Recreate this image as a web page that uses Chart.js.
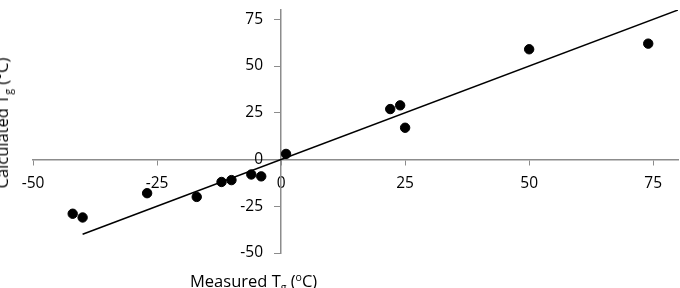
<!DOCTYPE html>
<html>
<head>
<meta charset="utf-8">
<script src="https://cdn.jsdelivr.net/npm/chart.js@4/dist/chart.umd.min.js"></script>
<style>
  html, body { margin: 0; padding: 0; background: #fff; }
  #wrap { position: relative; width: 680px; height: 288px; overflow: hidden; }
  canvas { position: absolute; left: 0; top: 0; }
  .title { position: absolute; font-family: "Open Sans", sans-serif; font-size: 16.5px; color: #000; white-space: nowrap; line-height: 16px; }
  .title sub { font-size: 10.5px; vertical-align: -4px; line-height: 0; }
  .title sup { font-size: 10.5px; vertical-align: 6px; line-height: 0; }
  #xTitle { left: 190px; top: 273px; }
  #yTitle { left: 1.5px; top: 123px; transform: translate(-50%, -50%) rotate(-90deg); }
</style>
</head>
<body>
<div id="wrap">
  <canvas id="c" width="680" height="288"></canvas>
  <div class="title" id="xTitle">Measured T<sub>g</sub> (<sup>o</sup>C)</div>
  <div class="title" id="yTitle">Calculated T<sub>g</sub> (°C)</div>
</div>
<script>
// Data
const measuredTg   = [-42, -40, -27, -17, -12, -10, -6, -4, 1, 22, 24, 25, 50, 74];
const calculatedTg = [-29, -31, -18, -20, -12, -11, -8, -9, 3, 27, 29, 17, 59, 62];
// Reference (parity) line endpoints
const lineX = [-40, 80];
const lineY = [-40, 80];
// Axis ranges / tick step
const xRange = [-50, 80];
const yRange = [-50, 80];
const tickStep = 25;

const points = measuredTg.map((x, i) => ({ x: x, y: calculatedTg[i] }));
const linePts = lineX.map((x, i) => ({ x: x, y: lineY[i] }));

const axisGray = '#8c8c8c';
const tickFont = { family: '"Open Sans", sans-serif', size: 15.5 };

// Axes placed at a data value should not reserve any layout space
function noLayoutSpace(s) {
  if (s.isHorizontal()) { s.height = 0; } else { s.width = 0; }
  s.paddingLeft = 0; s.paddingRight = 0; s.paddingTop = 0; s.paddingBottom = 0;
}

// y labels of an axis placed at a data value are drawn on the axis line; push them left of the tick marks
function shiftYLabels(s) {
  noLayoutSpace(s);
  const proto = Object.getPrototypeOf(s);
  s._computeLabelItems = function (area) {
    const items = proto._computeLabelItems.call(this, area);
    items.forEach(it => { it.options.translation[0] -= 18; });
    return items;
  };
}

new Chart(document.getElementById('c'), {
  type: 'scatter',
  data: {
    datasets: [
      {
        type: 'line',
        data: linePts,
        borderColor: '#000',
        borderWidth: 1.5,
        pointRadius: 0,
        fill: false,
        order: 2
      },
      {
        data: points,
        backgroundColor: '#000',
        borderColor: '#000',
        pointRadius: 4.7,
        pointHoverRadius: 4.7,
        order: 1
      }
    ]
  },
  options: {
    responsive: false,
    devicePixelRatio: 1,
    animation: false,
    layout: { autoPadding: false, padding: { left: 33, right: 2, top: 10, bottom: 35 } },
    plugins: { legend: { display: false }, tooltip: { enabled: false } },
    scales: {
      x: {
        type: 'linear',
        position: { y: 0 },
        min: xRange[0], max: xRange[1],
        afterFit: noLayoutSpace,
        ticks: { stepSize: tickStep, includeBounds: false, color: '#000', font: tickFont, padding: 10, maxRotation: 0 },
        grid: { display: true, drawOnChartArea: false, drawTicks: true, tickLength: 5, color: axisGray, lineWidth: 1 },
        border: { display: true, color: axisGray, width: 1.5 }
      },
      y: {
        type: 'linear',
        position: { x: 0 },
        min: yRange[0], max: yRange[1],
        afterFit: shiftYLabels,
        ticks: { stepSize: tickStep, includeBounds: false, color: '#000', font: tickFont, padding: 10 },
        grid: { display: true, drawOnChartArea: false, drawTicks: true, tickLength: 6, color: axisGray, lineWidth: 1 },
        border: { display: true, color: axisGray, width: 1.5 }
      }
    }
  }
});
</script>
</body>
</html>
